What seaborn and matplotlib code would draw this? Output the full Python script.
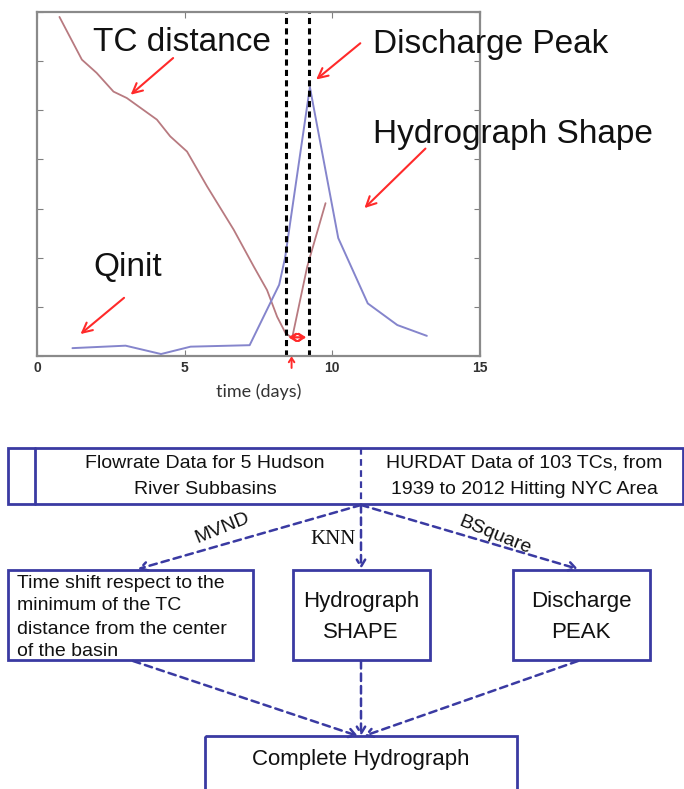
import numpy as np
import pandas as pd
import seaborn as sns
import matplotlib
matplotlib.use("Agg")
from matplotlib import pyplot as plt
from matplotlib.patches import Rectangle

# hydrograph (discharge)
flow_t = [1.2, 3.0, 4.2, 5.2, 7.2, 8.2, 8.4, 9.24, 10.2, 11.2, 12.2, 13.2]
flow_q = [0.16, 0.21, 0.04, 0.19, 0.22, 1.45, 2.0, 5.47, 2.40, 1.07, 0.63, 0.41]

# TC distance from the basin center
dist_t = [0.76, 1.52, 2.02, 2.59, 3.04, 4.06, 4.51, 5.08, 5.76, 6.66, 7.34, 7.79, 8.13, 8.42, 8.64, 9.15, 9.77]
dist_d = [6.90, 6.03, 5.76, 5.38, 5.25, 4.81, 4.47, 4.16, 3.45, 2.57, 1.82, 1.34, 0.80, 0.46, 0.37, 1.82, 3.11]

t_min_dist = 8.42
t_peak = 9.21
x_ticks = [0, 5, 10, 15]

BLUE_LINE = "#8585cc"
RED_LINE = "#b87a80"
ARROW_RED = "#ff2a2a"
NAVY = "#3a3aa2"
INK = "#111111"

sns.set_style("ticks")
plt.rcParams["font.family"] = ["Liberation Sans", "DejaVu Sans"]

fig = plt.figure(figsize=(6.84, 7.89), dpi=100)
W, H = 684, 789

# ---- top: hydrograph plot ----
ax = fig.add_axes([37 / W, 1 - 356 / H, 443 / W, 344 / H])
df_flow = pd.DataFrame({"t": flow_t, "q": flow_q})
df_dist = pd.DataFrame({"t": dist_t, "d": dist_d})
sns.lineplot(data=df_dist, x="t", y="d", ax=ax, color=RED_LINE, lw=1.3)
sns.lineplot(data=df_flow, x="t", y="q", ax=ax, color=BLUE_LINE, lw=1.4)
for xv in [t_min_dist, t_peak]:
    ax.axvline(xv, color="black", lw=2.2, ls=(0, (2, 1.4)))

ax.set_xlim(0, 15)
ax.set_ylim(0, 7)
ax.set_xticks(x_ticks)
ax.set_yticks(range(8))
ax.set_yticklabels([])
ax.set_ylabel("")
ax.set_xlabel("time (days)", fontsize=13, family="Lato", color="#333333", labelpad=6)
ax.tick_params(direction="in", top=True, right=True, length=4, color="#808080",
               labelsize=10, labelcolor="#333333")
for lab in ax.get_xticklabels():
    lab.set_fontweight("bold")
for sp in ax.spines.values():
    sp.set_color("#8a8a8a")
    sp.set_linewidth(1.6)

# annotations
red_kw = dict(arrowstyle="->,head_length=0.7,head_width=0.35", color=ARROW_RED, lw=1.5)
ax.annotate("", xy=(3.10, 5.28), xytext=(4.68, 6.10), arrowprops=red_kw)
ax.annotate("", xy=(1.40, 0.41), xytext=(3.02, 1.22), arrowprops=red_kw)
ax.annotate("", xy=(9.38, 5.59), xytext=(11.02, 6.40), arrowprops=red_kw)
ax.annotate("", xy=(11.02, 2.97), xytext=(13.22, 4.26), arrowprops=red_kw)
ax.text(1.90, 6.37, "TC distance", fontsize=24, va="center", ha="left", color=INK)
ax.text(1.90, 1.81, "Qinit", fontsize=24, va="center", ha="left", color=INK)
ax.text(11.37, 6.33, "Discharge Peak", fontsize=24, va="center", ha="left", clip_on=False, color=INK)
ax.text(11.37, 4.50, "Hydrograph Shape", fontsize=24, va="center", ha="left", clip_on=False, color=INK)

# time shift marker between the two dashed lines
ax.annotate("", xy=(t_min_dist, 0.38), xytext=(t_peak, 0.38),
            arrowprops=dict(arrowstyle="<->,head_length=0.4,head_width=0.25", color=ARROW_RED, lw=1.6))
ax.plot([8.8], [0.38], marker="o", ms=5, mfc="white", mec=ARROW_RED, mew=1.4)
ax.annotate("", xy=(8.62, 0.05), xytext=(8.62, -0.3), annotation_clip=False,
            arrowprops=dict(arrowstyle="->,head_length=0.3,head_width=0.2", color=ARROW_RED, lw=1.4))

# ---- bottom: flow chart (pixel coordinates) ----
fc = fig.add_axes([0, 0, 1, 1], zorder=-1)
fc.set_xlim(0, W)
fc.set_ylim(H, 0)
fc.axis("off")


def box(x0, y0, x1, y1):
    fc.add_patch(Rectangle((x0, y0), x1 - x0, y1 - y0, fill=False, ec=NAVY, lw=2))


box(8, 448, 683, 504)
fc.plot([35, 35], [448, 504], color=NAVY, lw=2)
fc.plot([361, 361], [448, 504], color=NAVY, lw=1.6, ls=(0, (3, 2)))
fc.text(205, 463, "Flowrate Data for 5 Hudson", fontsize=14, ha="center", va="center", color=INK)
fc.text(205, 489, "River Subbasins", fontsize=14, ha="center", va="center", color=INK)
fc.text(524, 463, "HURDAT Data of 103 TCs, from", fontsize=14, ha="center", va="center", color=INK)
fc.text(524, 489, "1939 to 2012 Hitting NYC Area", fontsize=14, ha="center", va="center", color=INK)

box(8, 570, 253, 660)
box(293, 570, 430, 660)
box(513, 570, 650, 660)
box(205, 736, 517, 800)

left_lines = ["Time shift respect to the", "minimum of the TC",
              "distance from the center", "of the basin"]
for i, s in enumerate(left_lines):
    fc.text(17, 583 + i * 23, s, fontsize=14, ha="left", va="center", color=INK)
fc.text(361, 601, "Hydrograph", fontsize=16, ha="center", va="center", color=INK)
fc.text(361, 632, "SHAPE", fontsize=16, ha="center", va="center", color=INK)
fc.text(581, 601, "Discharge", fontsize=16, ha="center", va="center", color=INK)
fc.text(581, 632, "PEAK", fontsize=16, ha="center", va="center", color=INK)
fc.text(361, 760, "Complete Hydrograph", fontsize=16, ha="center", va="center", color=INK)

dash_kw = dict(arrowstyle="->,head_length=0.5,head_width=0.3", color=NAVY, lw=1.8,
               linestyle=(0, (3, 2)), shrinkA=0, shrinkB=0)
fc.annotate("", xy=(138, 569), xytext=(361, 505), arrowprops=dash_kw)
fc.annotate("", xy=(361, 569), xytext=(361, 505), arrowprops=dash_kw)
fc.annotate("", xy=(578, 569), xytext=(361, 505), arrowprops=dash_kw)
fc.annotate("", xy=(358, 736), xytext=(133, 661), arrowprops=dash_kw)
fc.annotate("", xy=(361, 736), xytext=(361, 661), arrowprops=dash_kw)
fc.annotate("", xy=(364, 736), xytext=(578, 661), arrowprops=dash_kw)

fc.text(222, 528, "MVND", fontsize=14, rotation=22, ha="center", va="center", color=INK)
fc.text(333, 540, "KNN", fontsize=15, family="Liberation Serif", ha="center", va="center", color=INK)
fc.text(495, 535, "BSquare", fontsize=14, rotation=-22, ha="center", va="center", color=INK)

fig.savefig("out.png", dpi=100, facecolor="white")
